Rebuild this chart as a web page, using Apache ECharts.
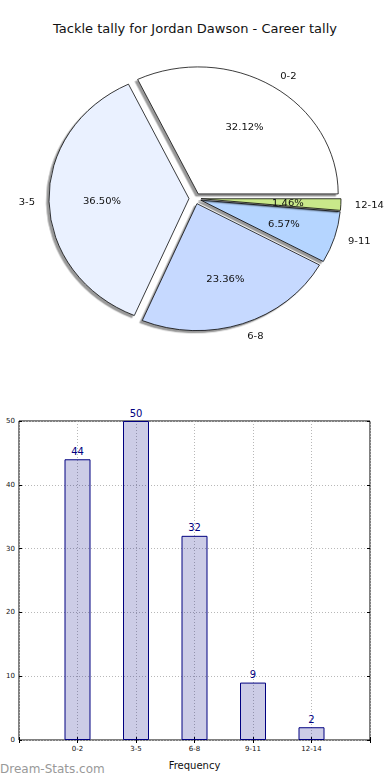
<!DOCTYPE html>
<html><head><meta charset="utf-8">
<script src="https://cdn.jsdelivr.net/npm/echarts@6/dist/echarts.min.js"></script>
<style>
html,body{margin:0;padding:0;background:#fff;}
#main{position:absolute;left:0;top:0;width:390px;height:780px;}
#pie{position:absolute;left:0;top:0;width:390px;height:400px;transform-origin:0 198.5px;transform:scaleY(0.907);}
</style></head><body>
<div id="main"></div><div id="pie"></div>
<script>
const categories = ['0-2', '3-5', '6-8', '9-11', '12-14'];
const tackleCounts = [44, 50, 32, 9, 2];
const sliceColors = ['#ffffff', '#eaf1ff', '#c6d9ff', '#b5d5ff', '#c9e88a'];
const yMax = 50;
const yStep = 10;
const chartTitle = 'Tackle tally for Jordan Dawson - Career tally';
const xName = 'Frequency';
const watermark = 'Dream-Stats.com';

const FONT = 'DejaVu Sans';
const total = tackleCounts.reduce((a, b) => a + b, 0);

// ---------- bar chart + titles ----------
const main = echarts.init(document.getElementById('main'), null, {renderer: 'svg'});
const axisCats = [''].concat(categories, ['']);
const barData = ['-'].concat(tackleCounts, ['-']);
const grid = {lineStyle: {color: '#b8b8b8', type: [1, 2], width: 1}};
const tick = {show: true, inside: true, length: 3, lineStyle: {color: '#000'}};
main.setOption({
  animation: false,
  title: [
    {text: chartTitle, left: 'center', top: 17,
     textStyle: {fontFamily: FONT, fontSize: 13, fontWeight: 'normal', color: '#111'}},
    {text: watermark, left: -5, top: 758,
     textStyle: {fontFamily: FONT, fontSize: 12, fontWeight: 'normal', color: '#999'}}
  ],
  grid: {left: 19, right: 20, top: 421, bottom: 40, show: true, borderColor: '#000', borderWidth: 1, containLabel: false},
  xAxis: [{
    type: 'category', data: axisCats, boundaryGap: false,
    name: xName, nameLocation: 'middle', nameGap: 20,
    nameTextStyle: {fontFamily: FONT, fontSize: 10, color: '#111'},
    axisLine: {show: false}, axisTick: tick,
    axisLabel: {fontFamily: FONT, fontSize: 7, color: '#111', margin: 5, interval: 0},
    splitLine: Object.assign({show: true}, grid)
  }, {
    type: 'category', data: axisCats, boundaryGap: false, position: 'top',
    axisLine: {show: false}, axisTick: tick, axisLabel: {show: false}, splitLine: {show: false}
  }],
  yAxis: [{
    type: 'value', min: 0, max: yMax, interval: yStep,
    axisLine: {show: false}, axisTick: tick,
    axisLabel: {fontFamily: FONT, fontSize: 7, color: '#111', margin: 4},
    splitLine: Object.assign({show: true}, grid)
  }, {
    type: 'value', min: 0, max: yMax, interval: yStep, position: 'right',
    axisLine: {show: false}, axisTick: tick, axisLabel: {show: false}, splitLine: {show: false}
  }],
  series: [{
    type: 'bar', data: barData, barWidth: 26,
    itemStyle: {color: 'rgba(0,0,128,0.2)', borderColor: '#000080', borderWidth: 1},
    label: {show: true, position: 'top', distance: 3, fontFamily: FONT, fontSize: 10, color: '#000080'},
    emphasis: {disabled: true}
  }]
});

// ---------- pie chart ----------
const pie = echarts.init(document.getElementById('pie'), null, {renderer: 'svg'});
const R = 140;
const explode = 6;
const pieData = categories.map((c, i) => ({
  name: c, value: tackleCounts[i], selected: true,
  itemStyle: {color: sliceColors[i]}
}));
const pctData = categories.map((c, i) => ({name: c, value: tackleCounts[i], selected: true}));
pie.setOption({
  animation: false,
  series: [
    {
      type: 'pie', center: [195, 198.5], radius: [0, R],
      startAngle: 0, clockwise: false,
      selectedMode: 'multiple', selectedOffset: explode,
      avoidLabelOverlap: false, silent: true,
      data: pieData,
      itemStyle: {borderColor: '#000', borderWidth: 0.8,
        shadowColor: 'rgba(0,0,0,0.4)', shadowBlur: 0, shadowOffsetX: -2.5, shadowOffsetY: 2.5},
      select: {itemStyle: {borderColor: '#000', borderWidth: 0.8}},
      emphasis: {disabled: true},
      label: {show: true, position: 'outside', formatter: '{b}',
        fontFamily: FONT, fontSize: 10, color: '#111', distanceToLabelLine: 0},
      labelLine: {show: false, length: R * 0.1, length2: 0}
    },
    {
      type: 'pie', center: [195, 198.5], radius: [0, R * 1.2],
      startAngle: 0, clockwise: false,
      selectedMode: 'multiple', selectedOffset: explode,
      avoidLabelOverlap: false, silent: true,
      data: pctData,
      itemStyle: {color: 'rgba(0,0,0,0)', borderWidth: 0},
      select: {itemStyle: {color: 'rgba(0,0,0,0)', borderWidth: 0}},
      emphasis: {disabled: true},
      label: {show: true, position: 'inside',
        formatter: p => (p.value / total * 100).toFixed(2) + '%',
        fontFamily: FONT, fontSize: 10, color: '#111'},
      labelLine: {show: false}
    }
  ]
});
</script></body></html>
